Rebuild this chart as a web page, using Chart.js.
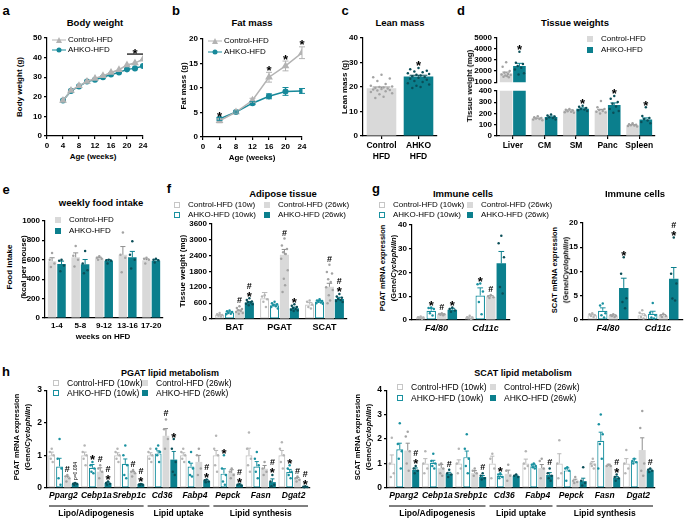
<!DOCTYPE html>
<html>
<head>
<meta charset="utf-8">
<title>AHKO HFD phenotype</title>
<script src="https://cdn.jsdelivr.net/npm/chart.js@4.4.1/dist/chart.umd.min.js"></script>
<style>
  body { margin: 0; width: 685px; height: 519px; position: relative; overflow: hidden; background: #fff;
         font-family: "Liberation Sans", Arial, sans-serif; color: #000; }
  canvas { position: absolute; }
  .t { position: absolute; white-space: nowrap; line-height: 1; }
  .c { transform: translate(-50%, -50%); }
  .r { transform: translate(-50%, -50%) rotate(-90deg); }
  .l { transform: translateY(-50%); }
</style>
</head>
<body>
<script>
// ---- a: body weight ----
const bwWeeks = [4, 6, 8, 10, 12, 14, 16, 18, 20, 22, 24];
const bwControl = [18.1, 23.2, 25.6, 27.8, 29.4, 30.7, 32.4, 33.8, 36.2, 37.2, 39.2];
const bwAhko = [18.1, 23.0, 25.3, 27.8, 28.7, 30.0, 31.4, 32.4, 34.0, 34.5, 35.7];

// ---- b: fat mass ----
const fmWeeks = [4, 8, 12, 16, 20, 24];
const fmControl = [3.3, 5.1, 7.5, 12.2, 14.5, 17.2];
const fmControlErr = [0.4, 0.2, 0.4, 1.0, 1.0, 1.2];
const fmAhko = [3.7, 5.1, 6.9, 8.3, 9.3, 9.4];
const fmAhkoErr = [0.3, 0.2, 0.3, 0.5, 0.8, 0.5];
const fmSig = ['*', '', '', '*', '*', '*'];

// ---- c: lean mass ----
const lmGroups = [['Control', 'HFD'], ['AHKO', 'HFD']];
const lmMean = [19.5, 24.3];
const lmErr = [0.5, 0.5];
const lmDots = [
  [25.0, 24.0, 23.5, 22.5, 21.2, 20.5, 20.2, 20.0, 19.8, 19.6, 19.4, 19.2, 19.0, 18.8, 18.6, 18.3, 18.0, 17.5, 17.0, 16.0, 15.5],
  [27.8, 27.2, 26.6, 26.3, 26.0, 25.6, 25.3, 25.0, 24.7, 24.4, 24.1, 23.8, 23.4, 23.0, 22.5, 22.0, 21.5, 21.0, 20.5, 20.0, 19.6]
];
const lmSig = ['', '*'];

// ---- d: tissue weights ----
const twTissues = ['Liver', 'CM', 'SM', 'Panc', 'Spleen'];
const twControl = [1800, 154, 226, 226, 96];
const twControlErr = [110, 5, 5, 10, 4];
const twAhko = [2450, 168, 241, 275, 145];
const twAhkoErr = [250, 8, 8, 18, 15];
const twControlDots = [
  [2800, 2400, 2000, 1850, 1750, 1700, 1650, 1600, 1550, 1500, 1450],
  [175, 165, 160, 155, 150, 145, 140],
  [240, 232, 226, 220, 215, 210, 205],
  [310, 255, 240, 230, 222, 215, 208, 200],
  [112, 105, 100, 96, 92, 88, 84]
];
const twAhkoDots = [
  [3750, 2750, 2650, 2450, 2300, 2150, 1800, 1700],
  [190, 182, 172, 166, 160, 152, 145],
  [268, 258, 248, 240, 235, 228, 222],
  [355, 330, 300, 285, 262, 240, 222, 205],
  [255, 178, 160, 150, 138, 125, 112]
];
const twSig = ['*', '', '*', '*', '*'];

// ---- e: weekly food intake ----
const fiWeeks = ['1-4', '5-8', '9-12', '13-16', '17-20'];
const fiControl = [585, 625, 615, 650, 595];
const fiControlErr = [35, 45, 10, 85, 12];
const fiAhko = [555, 552, 590, 625, 590];
const fiAhkoErr = [30, 50, 10, 60, 10];
const fiControlDots = [[668, 600, 560, 525], [740, 640, 600, 530], [635, 620, 610, 600], [880, 650, 620, 470], [620, 610, 600, 560]];
const fiAhkoDots = [[600, 590, 540, 480], [690, 560, 490, 460], [600, 595, 590, 560], [790, 650, 600, 510], [610, 600, 595, 570]];

// ---- f: adipose tissue ----
const atDepots = ['BAT', 'PGAT', 'SCAT'];
const atC10 = [150, 780, 550];
const atC10Err = [20, 220, 70];
const atA10 = [250, 520, 660];
const atA10Err = [20, 40, 40];
const atC26 = [310, 2430, 1220];
const atC26Err = [30, 200, 130];
const atA26 = [620, 410, 760];
const atA26Err = [40, 40, 60];
const atC10Dots = [[230, 180, 150, 120, 90], [900, 850, 750, 650, 450], [700, 650, 550, 450, 400]];
const atA10Dots = [[320, 290, 260, 230, 200, 180], [650, 600, 560, 520, 480, 450, 400], [750, 700, 680, 650, 620, 600, 580]];
const atC26Dots = [[480, 420, 380, 330, 300, 260, 230, 200],
  [3040, 2775, 2650, 2525, 2460, 2275, 1840, 1525, 1275, 1025],
  [2050, 1780, 1720, 1500, 1400, 1200, 1100, 900, 700, 600]];
const atA26Dots = [[780, 720, 660, 640, 620, 580, 560, 520], [560, 500, 450, 420, 380, 350, 320, 300], [950, 850, 800, 760, 720, 680, 640]];
const atSigC26 = ['#', '#', '#'];
const atSigA26 = ['#*', '*', '#*'];

// ---- g: immune cells ----
const icGenes = ['F4/80', 'Cd11c'];
const icpC10 = [1.0, 1.0], icpC10Err = [0.2, 0.3];
const icpA10 = [3.9, 10.3], icpA10Err = [1.0, 3.2];
const icpC26 = [2.4, 9.7], icpC26Err = [0.2, 0.5];
const icpA26 = [4.3, 23.8], icpA26Err = [0.6, 5.0];
const icpC10Dots = [[1.5, 1.2, 1.0, 0.8, 0.5], [1.8, 1.2, 1.0, 0.7, 0.3]];
const icpA10Dots = [[5.2, 5.0, 4.6, 2.8, 1.9], [15.3, 15.0, 12.0, 7.6, 2.4]];
const icpC26Dots = [[2.8, 2.5, 2.4, 2.2, 2.0], [10.5, 10.0, 9.6, 9.2]];
const icpA26Dots = [[5.2, 4.6, 4.0, 3.5], [35.4, 32.2, 26.4, 13.9, 11.1]];
const icpSigA10 = ['*', '*'], icpSigC26 = ['#', '#'], icpSigA26 = ['*', ''];

const icsC10 = [1.0, 1.0], icsC10Err = [0.15, 0.3];
const icsA10 = [1.9, 1.3], icsA10Err = [0.6, 0.5];
const icsC26 = [0.9, 0.9], icsC26Err = [0.15, 0.2];
const icsA26 = [6.6, 8.5], icsA26Err = [2.0, 2.3];
const icsC10Dots = [[1.4, 1.2, 1.0, 0.8, 0.6], [2.0, 1.5, 1.0, 0.6, 0.3]];
const icsA10Dots = [[3.4, 3.0, 1.4, 1.0, 0.5], [3.5, 1.5, 1.0, 0.5, 0.3]];
const icsC26Dots = [[1.2, 1.0, 0.9, 0.8, 0.6], [1.3, 1.0, 0.8, 0.6]];
const icsA26Dots = [[12.9, 9.5, 4.5, 3.7, 2.4], [17.0, 9.5, 7.5, 4.4, 4.0]];
const icsSigA26 = ['*', '#*'];

// ---- h: lipid metabolism genes ----
const lipidGenes = ['Pparg2', 'Cebp1a', 'Srebp1c', 'Cd36', 'Fabp4', 'Pepck', 'Fasn', 'Dgat2'];
const lipidGroups = [
  { label: 'Lipo/Adipogenesis', from: 0, to: 2 },
  { label: 'Lipid uptake', from: 3, to: 4 },
  { label: 'Lipid synthesis', from: 5, to: 7 }
];
const pgatC10 = [1.0, 1.0, 1.0, 1.0, 1.0, 1.0, 1.0, 1.0];
const pgatC10Err = [0.1, 0.1, 0.08, 0.08, 0.08, 0.15, 0.22, 0.15];
const pgatA10 = [0.66, 0.62, 0.74, 1.06, 0.66, 0.44, 0.66, 0.49];
const pgatA10Err = [0.25, 0.1, 0.15, 0.08, 0.1, 0.15, 0.15, 0.08];
const pgatC26 = [0.31, 0.5, 0.46, 1.6, 0.8, 0.46, 0.59, 0.28];
const pgatC26Err = [0.05, 0.12, 0.05, 0.22, 0.2, 0.1, 0.1, 0.04];
const pgatA26 = [0.13, 0.15, 0.11, 0.87, 0.22, 0.1, 0.18, 0.03];
const pgatA26Err = [0.02, 0.03, 0.02, 0.25, 0.03, 0.02, 0.1, 0.01];
const pgatC10Dots = [[1.2, 1.1, 1.0, 0.9, 0.8], [1.3, 1.1, 1.0, 0.9, 0.7], [1.2, 1.1, 1.0, 0.9, 0.8], [1.2, 1.1, 1.0, 0.9, 0.8],
  [1.2, 1.1, 1.0, 0.9, 0.8], [1.6, 1.2, 1.0, 0.7, 0.5], [1.7, 1.2, 0.9, 0.7, 0.5], [1.4, 1.2, 1.0, 0.8, 0.6]];
const pgatA10Dots = [[1.5, 0.9, 0.6, 0.3, 0.1], [0.8, 0.7, 0.6, 0.5, 0.45], [1.3, 1.0, 0.7, 0.4, 0.3], [1.3, 1.2, 1.1, 1.0, 0.8],
  [1.1, 0.8, 0.6, 0.4, 0.35], [1.0, 0.6, 0.4, 0.2, 0.1], [1.1, 0.9, 0.7, 0.5, 0.3], [0.7, 0.6, 0.5, 0.4, 0.3]];
const pgatC26Dots = [[0.4, 0.35, 0.3, 0.2], [0.7, 0.6, 0.5, 0.3], [0.55, 0.5, 0.45, 0.35], [2.1, 1.8, 1.5, 1.2],
  [1.2, 1.0, 0.6, 0.4], [0.6, 0.5, 0.4, 0.3], [0.8, 0.6, 0.5, 0.4], [0.35, 0.3, 0.25, 0.2]];
const pgatA26Dots = [[0.15, 0.13, 0.12, 0.1], [0.2, 0.15, 0.13, 0.1], [0.12, 0.11, 0.1, 0.09], [1.5, 1.2, 0.8, 0.5, 0.4],
  [0.26, 0.24, 0.2, 0.18], [0.12, 0.1, 0.08], [0.4, 0.2, 0.1, 0.05], [0.05, 0.04, 0.03, 0.02]];
const pgatSigA10 = ['', '*', '', '', '', '*', '', '*'];
const pgatSigC26 = ['#', '#', '#', '#', '', '', '', '#'];
const pgatSigA26 = ['p=0.084', '#*', '#*', '*', '#*', '#*', '#*', '#*'];

const scatC10 = [1.0, 1.0, 1.0, 1.0, 1.0, 1.0, 1.0, 1.0];
const scatC10Err = [0.35, 0.2, 0.15, 0.3, 0.18, 0.4, 0.08, 0.2];
const scatA10 = [1.58, 1.03, 1.26, 0.5, 0.89, 0.72, 1.93, 1.09];
const scatA10Err = [0.25, 0.1, 0.25, 0.05, 0.08, 0.1, 0.35, 0.1];
const scatC26 = [1.53, 0.81, 0.61, 0.58, 0.81, 0.31, 0.92, 1.55];
const scatC26Err = [0.3, 0.15, 0.1, 0.15, 0.15, 0.05, 0.05, 0.5];
const scatA26 = [0.74, 0.58, 0.45, 0.49, 0.53, 0.28, 0.42, 0.72];
const scatA26Err = [0.08, 0.06, 0.06, 0.03, 0.1, 0.12, 0.05, 0.05];
const scatC10Dots = [[2.05, 1.0, 0.6, 0.45], [1.5, 1.0, 0.8, 0.6], [1.6, 1.0, 0.8, 0.6], [1.4, 1.2, 0.8, 0.4],
  [1.5, 1.0, 0.9, 0.8], [1.95, 1.0, 0.6, 0.4], [1.2, 1.0, 0.95, 0.9, 0.8], [1.55, 1.0, 0.8, 0.6]];
const scatA10Dots = [[2.65, 1.8, 1.5, 1.2, 0.8], [1.4, 1.1, 1.0, 0.9, 0.8], [2.2, 1.6, 1.2, 0.9, 0.6], [0.6, 0.55, 0.45, 0.4],
  [1.0, 0.95, 0.9, 0.85, 0.8], [0.85, 0.8, 0.7, 0.3], [3.0, 2.6, 2.2, 1.8, 1.2, 0.8], [1.2, 1.1, 1.05, 1.0]];
const scatC26Dots = [[2.3, 2.1, 1.5, 1.0, 0.7], [1.0, 0.95, 0.8, 0.6, 0.5], [0.8, 0.7, 0.6, 0.5], [0.95, 0.7, 0.5, 0.3],
  [1.2, 1.1, 0.8, 0.4], [0.45, 0.3, 0.25, 0.2], [0.95, 0.9, 0.9], [3.15, 2.45, 1.0, 0.7, 0.5]];
const scatA26Dots = [[0.9, 0.8, 0.7, 0.6], [0.75, 0.6, 0.55, 0.45], [0.6, 0.5, 0.4, 0.35], [0.55, 0.5, 0.45],
  [0.8, 0.6, 0.5, 0.4, 0.3], [0.85, 0.3, 0.2, 0.1], [0.55, 0.45, 0.4, 0.3], [0.8, 0.75, 0.7, 0.65]];
const scatSigA10 = ['', '', '', '*', '', '', '', ''];
const scatSigA26 = ['#*', '#', '#', '', '#', '', '#*', '#'];

// ---- styles ----
const TEAL = '#0b7f8d';
const TEAL_LINE = '#17899a';
const GRAY = '#d9d9d9';
const LINE_GRAY = '#b3b3b3';
const STYLE = {
  c10: { fill: '#ffffff', line: '#c6c6c6', bw: 1.2, err: '#b8b8b8', dot: '#b5b5b5' },
  a10: { fill: '#ffffff', line: '#1a91a0', bw: 1.2, err: '#1a91a0', dot: '#1a91a0' },
  c26: { fill: GRAY, line: GRAY, bw: 0, err: '#8f8f8f', dot: '#a3a3a3' },
  a26: { fill: TEAL, line: TEAL, bw: 0, err: TEAL, dot: '#0a4e58' }
};

Chart.defaults.font.family = '"Liberation Sans", Arial, sans-serif';
Chart.defaults.font.size = 8;
Chart.defaults.font.weight = 'bold';
Chart.defaults.color = '#000';
Chart.defaults.animation = false;
Chart.defaults.plugins.legend.display = false;
Chart.defaults.plugins.tooltip.enabled = false;

// horizontal spread of dots inside a bar (fraction of bar width)
const SPREAD = [0, -0.28, 0.28, -0.14, 0.14, -0.36, 0.36, -0.07, 0.07, -0.21, 0.21];
const pick = (v, i) => Array.isArray(v) ? v[i] : v;

function drawSig(ctx, s, x, y) {
  ctx.save();
  ctx.fillStyle = '#000';
  if (s.startsWith('p=')) {
    ctx.translate(x, y);
    ctx.rotate(-Math.PI / 2);
    ctx.font = '5px "Liberation Sans", Arial';
    ctx.textAlign = 'left';
    ctx.textBaseline = 'middle';
    ctx.fillText(s, 0, 0);
    ctx.restore();
    return;
  }
  ctx.textAlign = 'center';
  ctx.textBaseline = 'alphabetic';
  for (let k = s.length - 1; k >= 0; k--) {
    if (s[k] === '*') {
      ctx.font = 'bold 13px "Liberation Sans", Arial';
      ctx.fillText('*', x, y + 5.5);
      y -= 6.5;
    } else {
      ctx.font = 'bold 9px "Liberation Sans", Arial';
      ctx.fillText(s[k], x, y);
      y -= 8;
    }
  }
  ctx.restore();
}

// error bars, dots, significance marks, brackets and gene groups
const marks = {
  id: 'marks',
  afterDatasetsDraw(chart, args, opts) {
    const ctx = chart.ctx, ys = chart.scales.y, xs = chart.scales.x;
    const lo = ys.min, hi = ys.max;
    chart.data.datasets.forEach((ds, di) => {
      const meta = chart.getDatasetMeta(di);
      meta.data.forEach((el, i) => {
        const raw = ds.data[i];
        if (raw == null) return;
        const v = typeof raw === 'object' ? raw.y : raw;
        const w = el.width || 8;
        let top = v;
        if (ds.err) {
          const e = ds.err[i];
          top = v + e;
          if (v <= hi && top >= lo) {
            ctx.save();
            ctx.strokeStyle = pick(ds.errColor, i);
            ctx.lineWidth = 1;
            const yTop = ys.getPixelForValue(Math.min(top, hi));
            const yBot = ys.getPixelForValue(ds.errBoth ? v - e : v);
            const cw = ds.errBoth ? 3 : Math.max(2, w * 0.3);
            ctx.beginPath();
            ctx.moveTo(el.x, yBot);
            ctx.lineTo(el.x, yTop);
            if (top <= hi) { ctx.moveTo(el.x - cw, yTop); ctx.lineTo(el.x + cw, yTop); }
            if (ds.errBoth) { ctx.moveTo(el.x - cw, yBot); ctx.lineTo(el.x + cw, yBot); }
            ctx.stroke();
            ctx.restore();
          }
        }
        if (ds.dots && ds.dots[i]) {
          ctx.save();
          ctx.fillStyle = pick(ds.dotColor, i);
          ds.dots[i].forEach((d, k) => {
            top = Math.max(top, d);
            if (d < lo || d > hi) return;
            ctx.beginPath();
            ctx.arc(el.x + SPREAD[k % SPREAD.length] * w, ys.getPixelForValue(d), 1.25, 0, Math.PI * 2);
            ctx.fill();
          });
          ctx.restore();
        }
        if (ds.sig && ds.sig[i] && top >= lo && top <= hi) {
          drawSig(ctx, ds.sig[i], el.x, ys.getPixelForValue(top) - 3);
        }
      });
    });
    if (opts.sigLine) {
      const s = opts.sigLine;
      const y = ys.getPixelForValue(s.y);
      const x1 = xs.getPixelForValue(s.from), x2 = xs.getPixelForValue(s.to);
      ctx.save();
      ctx.strokeStyle = '#000';
      ctx.lineWidth = 1.2;
      ctx.beginPath(); ctx.moveTo(x1, y); ctx.lineTo(x2, y); ctx.stroke();
      ctx.restore();
      drawSig(ctx, '*', (x1 + x2) / 2, y - 2);
    }
    if (opts.groups) {
      const half = xs.width / chart.data.labels.length / 2;
      const yLine = chart.chartArea.bottom + 18;
      ctx.save();
      ctx.strokeStyle = '#000';
      ctx.lineWidth = 1;
      ctx.fillStyle = '#000';
      ctx.font = 'bold 8.5px "Liberation Sans", Arial';
      ctx.textAlign = 'center';
      ctx.textBaseline = 'middle';
      opts.groups.forEach(g => {
        const a = xs.getPixelForValue(g.from) - half + 2, b = xs.getPixelForValue(g.to) + half - 2;
        ctx.beginPath(); ctx.moveTo(a, yLine); ctx.lineTo(b, yLine); ctx.stroke();
        ctx.fillText(g.label, (a + b) / 2, yLine + 8);
      });
      ctx.restore();
    }
  }
};

// ---- axes ----
const axisBorder = { color: '#000', width: 1.2 };
function valueAxis(min, max, step, size) {
  return {
    min, max, border: axisBorder,
    grid: { drawOnChartArea: false, color: '#000', lineWidth: 1.2, tickLength: 3 },
    ticks: { stepSize: step, autoSkip: false, padding: 2, color: '#000', font: { size: size || 8, weight: 'bold' },
      callback: v => String(v) }
  };
}
function weekAxis() {
  return Object.assign(valueAxis(0, 24, 4), { type: 'linear' });
}
function catAxis(font, tick) {
  return {
    border: axisBorder,
    grid: { drawOnChartArea: false, offset: false, color: '#000', lineWidth: 1.2, drawTicks: !!tick, tickLength: tick || 0 },
    ticks: { autoSkip: false, maxRotation: 0, minRotation: 0, padding: tick ? 2 : 3, color: '#000', font }
  };
}

function build(box, config) {
  const pb = box.pb || 0;
  const left = box.x0 - box.yW, top = box.y0 - box.pt;
  const cv = document.createElement('canvas');
  cv.width = box.x1 + box.pr - left;
  cv.height = box.y1 + box.xH + pb - top;
  cv.style.left = left + 'px';
  cv.style.top = top + 'px';
  document.body.appendChild(cv);
  const o = config.options;
  o.responsive = false;
  o.layout = { padding: { top: box.pt, right: box.pr, bottom: pb, left: 0 } };
  o.scales.y.afterFit = s => { s.width = box.yW; };
  o.scales.x.afterFit = s => { s.height = box.xH; };
  config.plugins = [marks];
  return new Chart(cv, config);
}

function bar(kind, data, err, dots, sig, extra) {
  const st = STYLE[kind];
  return Object.assign({
    data, err, dots, sig,
    backgroundColor: st.fill, borderColor: st.line, borderWidth: st.bw, borderSkipped: false,
    errColor: st.err, dotColor: st.dot
  }, extra || {});
}

// a
build({ x0: 47, x1: 143, y0: 38, y1: 136, yW: 22, xH: 16, pt: 8, pr: 8 }, {
  type: 'line',
  data: { datasets: [
    { data: bwWeeks.map((w, i) => ({ x: w, y: bwControl[i] })), borderColor: LINE_GRAY, backgroundColor: LINE_GRAY,
      pointStyle: 'triangle', pointRadius: 3, borderWidth: 1.5 },
    { data: bwWeeks.map((w, i) => ({ x: w, y: bwAhko[i] })), borderColor: TEAL_LINE, backgroundColor: TEAL_LINE,
      pointStyle: 'circle', pointRadius: 2.3, borderWidth: 1.5 }
  ] },
  options: { scales: { x: weekAxis(), y: valueAxis(0, 50, 10) }, plugins: { marks: { sigLine: { from: 20, to: 24, y: 41.8 } } } }
});

// b
build({ x0: 203, x1: 302, y0: 39, y1: 137, yW: 20, xH: 16, pt: 8, pr: 8 }, {
  type: 'line',
  data: { datasets: [
    { data: fmWeeks.map((w, i) => ({ x: w, y: fmControl[i] })), err: fmControlErr, errBoth: true, errColor: LINE_GRAY,
      sig: fmSig, borderColor: LINE_GRAY, backgroundColor: LINE_GRAY, pointStyle: 'triangle', pointRadius: 3, borderWidth: 1.5 },
    { data: fmWeeks.map((w, i) => ({ x: w, y: fmAhko[i] })), err: fmAhkoErr, errBoth: true, errColor: TEAL_LINE,
      borderColor: TEAL_LINE, backgroundColor: TEAL_LINE, pointStyle: 'circle', pointRadius: 2.3, borderWidth: 1.5 }
  ] },
  options: { scales: { x: weekAxis(), y: valueAxis(0, 20, 5) } }
});

// c
build({ x0: 363, x1: 437, y0: 38, y1: 136, yW: 20, xH: 26, pt: 8, pr: 2 }, {
  type: 'bar',
  data: { labels: lmGroups, datasets: [{
    data: lmMean, err: lmErr, dots: lmDots, sig: lmSig,
    backgroundColor: [GRAY, TEAL], borderWidth: 0,
    errColor: ['#8f8f8f', '#0a4e58'], dotColor: ['#a3a3a3', '#0a4e58'],
    categoryPercentage: 1, barPercentage: 0.8
  }] },
  options: { scales: { x: catAxis({ size: 8.5, weight: 'bold' }, 3), y: valueAxis(0, 40, 10) } }
});

// d (broken axis: upper and lower segments)
const twSets = () => [
  bar('c26', twControl, twControlErr, twControlDots, null, { clip: 0, categoryPercentage: 0.84, barPercentage: 0.95 }),
  bar('a26', twAhko, twAhkoErr, twAhkoDots, twSig, { clip: 0, categoryPercentage: 0.84, barPercentage: 0.95 })
];
build({ x0: 497, x1: 655, y0: 37, y1: 83, yW: 26, xH: 0, pt: 6, pr: 2, pb: 6 }, {
  type: 'bar',
  data: { labels: twTissues, datasets: twSets() },
  options: { scales: { x: { display: false }, y: valueAxis(1000, 5000, 1000) } }
});
build({ x0: 497, x1: 655, y0: 90, y1: 136, yW: 26, xH: 16, pt: 6, pr: 2 }, {
  type: 'bar',
  data: { labels: twTissues, datasets: twSets() },
  options: { scales: { x: catAxis({ size: 8.5, weight: 'bold' }, 3), y: valueAxis(0, 400, 100) } }
});

// e
build({ x0: 45, x1: 163, y0: 220, y1: 318, yW: 26, xH: 16, pt: 6, pr: 2 }, {
  type: 'bar',
  data: { labels: fiWeeks, datasets: [
    bar('c26', fiControl, fiControlErr, fiControlDots, null, { categoryPercentage: 0.8, barPercentage: 0.9 }),
    bar('a26', fiAhko, fiAhkoErr, fiAhkoDots, null, { categoryPercentage: 0.8, barPercentage: 0.9 })
  ] },
  options: { scales: { x: catAxis({ size: 8, weight: 'bold' }), y: valueAxis(0, 1000, 200) } }
});

// four-group bar charts (f, g, h)
function fourGroups(labels, s, cp, bp) {
  const ex = { categoryPercentage: cp, barPercentage: bp };
  return { labels, datasets: [
    bar('c10', s[0], s[1], s[2], s[3], ex),
    bar('a10', s[4], s[5], s[6], s[7], ex),
    bar('c26', s[8], s[9], s[10], s[11], ex),
    bar('a26', s[12], s[13], s[14], s[15], ex)
  ] };
}

// f
build({ x0: 212, x1: 347, y0: 223, y1: 319, yW: 26, xH: 16, pt: 6, pr: 2 }, {
  type: 'bar',
  data: fourGroups(atDepots, [
    atC10, atC10Err, atC10Dots, null, atA10, atA10Err, atA10Dots, null,
    atC26, atC26Err, atC26Dots, atSigC26, atA26, atA26Err, atA26Dots, atSigA26], 0.88, 0.92),
  options: { scales: { x: catAxis({ size: 9, weight: 'bold' }), y: valueAxis(0, 3600, 600) } }
});

// g left (PGAT)
build({ x0: 412, x1: 510, y0: 224, y1: 320, yW: 16, xH: 16, pt: 6, pr: 2 }, {
  type: 'bar',
  data: fourGroups(icGenes, [
    icpC10, icpC10Err, icpC10Dots, null, icpA10, icpA10Err, icpA10Dots, icpSigA10,
    icpC26, icpC26Err, icpC26Dots, icpSigC26, icpA26, icpA26Err, icpA26Dots, icpSigA26], 0.86, 0.9),
  options: { scales: { x: catAxis({ size: 9, weight: 'bold', style: 'italic' }), y: valueAxis(0, 40, 10) } }
});

// g right (SCAT)
build({ x0: 583, x1: 683, y0: 222, y1: 320, yW: 16, xH: 16, pt: 6, pr: 2 }, {
  type: 'bar',
  data: fourGroups(icGenes, [
    icsC10, icsC10Err, icsC10Dots, null, icsA10, icsA10Err, icsA10Dots, null,
    icsC26, icsC26Err, icsC26Dots, null, icsA26, icsA26Err, icsA26Dots, icsSigA26], 0.84, 0.9),
  options: { scales: { x: catAxis({ size: 9, weight: 'bold', style: 'italic' }), y: valueAxis(0, 20, 5) } }
});

// h left (PGAT)
build({ x0: 47, x1: 310, y0: 389, y1: 488, yW: 14, xH: 31, pt: 6, pr: 2 }, {
  type: 'bar',
  data: fourGroups(lipidGenes, [
    pgatC10, pgatC10Err, pgatC10Dots, null, pgatA10, pgatA10Err, pgatA10Dots, pgatSigA10,
    pgatC26, pgatC26Err, pgatC26Dots, pgatSigC26, pgatA26, pgatA26Err, pgatA26Dots, pgatSigA26], 0.95, 0.88),
  options: { scales: { x: catAxis({ size: 8.5, weight: 'bold', style: 'italic' }), y: valueAxis(0, 3, 1, 8.5) },
    plugins: { marks: { groups: lipidGroups } } }
});

// h right (SCAT)
build({ x0: 387, x1: 655, y0: 389, y1: 488, yW: 14, xH: 31, pt: 6, pr: 2 }, {
  type: 'bar',
  data: fourGroups(lipidGenes, [
    scatC10, scatC10Err, scatC10Dots, null, scatA10, scatA10Err, scatA10Dots, scatSigA10,
    scatC26, scatC26Err, scatC26Dots, null, scatA26, scatA26Err, scatA26Dots, scatSigA26], 0.95, 0.88),
  options: { scales: { x: catAxis({ size: 8.5, weight: 'bold', style: 'italic' }), y: valueAxis(0, 4, 1, 8.5) },
    plugins: { marks: { groups: lipidGroups } } }
});

// ---- text: panel letters, titles, axis titles, legends ----
function txt(x, y, html, cls, css) {
  const d = document.createElement('div');
  d.className = 't ' + cls;
  d.innerHTML = html;
  d.style.cssText = `left:${x}px;top:${y}px;${css || ''}`;
  document.body.appendChild(d);
  return d;
}
[['a', 6, 10], ['b', 176, 10], ['c', 345, 10], ['d', 461, 10], ['e', 6, 189], ['f', 169, 188], ['g', 376, 188], ['h', 6, 371]]
  .forEach(([s, x, y]) => txt(x, y, s, 'c', 'font-weight:bold;font-size:13px'));

[['Body weight', 95, 23], ['Fat mass', 252, 23], ['Lean mass', 400, 23], ['Tissue weights', 575, 23],
 ['weekly food intake', 101, 203], ['Adipose tissue', 283, 194], ['Immune cells', 463, 194], ['Immune cells', 635, 194]]
  .forEach(([s, x, y]) => txt(x, y, s, 'c', 'font-weight:bold;font-size:9.5px'));
txt(170, 373, 'PGAT lipid metabolism', 'c', 'font-weight:bold;font-size:9px');
txt(523, 373, 'SCAT lipid metabolism', 'c', 'font-weight:bold;font-size:9px');

const yTitle = (x, y, s, size) => txt(x, y, s, 'r', `font-weight:bold;font-size:${size || 8}px`);
yTitle(20, 87, 'Body weight (g)');
yTitle(184, 86, 'Fat mass (g)');
yTitle(345, 87, 'Lean mass (g)');
yTitle(470, 86, 'Tissue weight (mg)');
yTitle(10, 267, 'Food intake');
yTitle(24, 267, '(kcal per mouse)');
yTitle(183, 271, 'Tissue weight (mg)');
yTitle(383, 268, 'PGAT mRNA expression', 7.5);
yTitle(394, 268, '(Gene/<i>Cyclophilin</i>)', 7.5);
yTitle(555, 270, 'SCAT mRNA expression', 7.5);
yTitle(566, 270, '(Gene/<i>Cyclophilin</i>)', 7.5);
yTitle(17, 437, 'PGAT mRNA expression', 7.5);
yTitle(28, 437, '(Gene/<i>Cyclophilin</i>)', 7.5);
yTitle(358, 437, 'SCAT mRNA expression', 7.5);
yTitle(369, 437, '(Gene/<i>Cyclophilin</i>)', 7.5);

txt(93, 157, 'Age (weeks)', 'c', 'font-weight:bold;font-size:8px');
txt(252, 158, 'Age (weeks)', 'c', 'font-weight:bold;font-size:8px');
txt(103, 337, 'weeks on HFD', 'c', 'font-weight:bold;font-size:8px');

function lineLegend(x, y, color, marker, label) {
  txt(x, y, '', 'l', `width:14px;height:0;border-top:1.5px solid ${color}`);
  if (marker === 'tri') {
    txt(x + 7, y - 0.5, '', 'c', `width:0;height:0;border-left:3.5px solid transparent;border-right:3.5px solid transparent;border-bottom:6px solid ${color}`);
  } else {
    txt(x + 7, y, '', 'c', `width:5px;height:5px;border-radius:50%;background:${color}`);
  }
  txt(x + 16, y, label, 'l', 'font-size:8px');
}
lineLegend(52, 40, LINE_GRAY, 'tri', 'Control-HFD');
lineLegend(52, 50, TEAL_LINE, 'dot', 'AHKO-HFD');
lineLegend(208, 41, LINE_GRAY, 'tri', 'Control-HFD');
lineLegend(208, 52, TEAL_LINE, 'dot', 'AHKO-HFD');

function sqLegend(x, y, kind, label, size) {
  const st = STYLE[kind];
  txt(x, y, '', 'c', `width:6px;height:6px;box-sizing:border-box;background:${st.fill};` +
    (st.bw ? `border:1.2px solid ${st.line}` : ''));
  txt(x + 11, y, label, 'l', `font-size:${size || 8}px`);
}
sqLegend(590, 39, 'c26', 'Control-HFD');
sqLegend(590, 50, 'a26', 'AHKO-HFD');
sqLegend(58, 220, 'c26', 'Control-HFD');
sqLegend(58, 231, 'a26', 'AHKO-HFD');
sqLegend(177, 205, 'c10', 'Control-HFD (10w)');
sqLegend(177, 215, 'a10', 'AHKO-HFD (10wk)');
sqLegend(267, 205, 'c26', 'Control-HFD (26wk)');
sqLegend(267, 215, 'a26', 'AHKO-HFD (26wk)');
sqLegend(382, 205, 'c10', 'Control-HFD (10wk)');
sqLegend(382, 215, 'a10', 'AHKO-HFD (10wk)');
sqLegend(470, 205, 'c26', 'Control-HFD (26wk)');
sqLegend(470, 215, 'a26', 'AHKO-HFD (26wk)');
sqLegend(56, 383, 'c10', 'Control-HFD (10wk)', 8.5);
sqLegend(56, 393, 'a10', 'AHKO-HFD (10wk)', 8.5);
sqLegend(145, 383, 'c26', 'Control-HFD (26wk)', 8.5);
sqLegend(145, 393, 'a26', 'AHKO-HFD (26wk)', 8.5);
sqLegend(400, 387, 'c10', 'Control-HFD (10wk)', 8.5);
sqLegend(400, 398, 'a10', 'AHKO-HFD (10wk)', 8.5);
sqLegend(493, 387, 'c26', 'Control-HFD (26wk)', 8.5);
sqLegend(493, 398, 'a26', 'AHKO-HFD (26wk)', 8.5);
</script>
</body>
</html>
